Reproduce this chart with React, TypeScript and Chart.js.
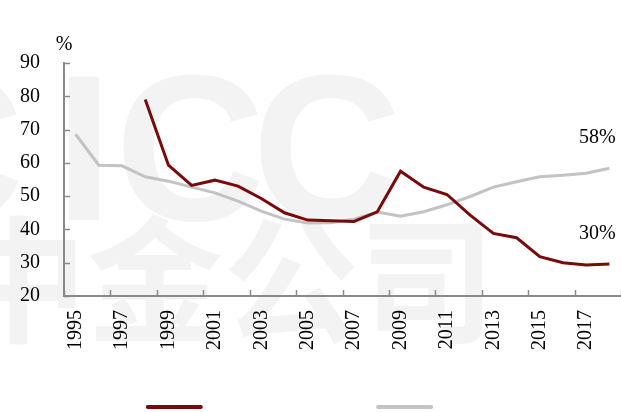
import React, { useEffect, useRef } from 'react';
import { Chart, registerables } from 'chart.js';

Chart.register(...registerables);

const years = [
  '1995', '1996', '1997', '1998', '1999', '2000', '2001', '2002', '2003', '2004', '2005', '2006',
  '2007', '2008', '2009', '2010', '2011', '2012', '2013', '2014', '2015', '2016', '2017', '2018',
];

const redSeries = [
  null, null, null, 79.0, 59.3, 53.2, 54.8, 53.0, 49.3, 45.0, 42.8, 42.6,
  42.4, 45.3, 57.5, 52.7, 50.5, 44.3, 38.8, 37.5, 31.8, 30.0, 29.3, 29.6,
];

const graySeries = [
  68.6, 59.3, 59.1, 55.8, 54.5, 52.7, 51.0, 48.5, 45.5, 43.1, 41.9, 42.0,
  43.1, 45.2, 44.0, 45.3, 47.4, 49.9, 52.7, 54.3, 55.8, 56.3, 56.9, 58.4,
];

const yMin = 20;
const yMax = 90;
const yStep = 10;
const unitLabel = '%';
const endLabels = ['30%', '58%'];
const watermarkLatin = ['C', 'I', 'C', 'C'];
const watermarkCJK = '中金公司';

const RED = '#7a0a0a';
const GRAY = '#c3c3c3';
const AXIS = '#8a8a8a';
const WM = '#f3f3f3';
const FONT = "'Liberation Serif', 'Times New Roman', serif";

const watermark = {
  id: 'watermark',
  beforeDraw(chart: any) {
    const { ctx } = chart;
    ctx.save();
    ctx.fillStyle = WM;
    ctx.textBaseline = 'alphabetic';
    ctx.textAlign = 'left';
    ctx.font = "bold 208px 'Liberation Sans', Arial, sans-serif";
    const xs = [-126, 55, 115, 252];
    watermarkLatin.forEach((ch, i) => ctx.fillText(ch, xs[i], 220));
    ctx.font = "bold 136px 'Noto Sans CJK SC', sans-serif";
    ctx.textBaseline = 'middle';
    ctx.fillText(watermarkCJK, -49, 280);
    ctx.restore();
  },
};

const innerTicks = {
  id: 'innerTicks',
  afterDraw(chart: any) {
    const { ctx, chartArea, scales } = chart;
    const x = scales.x;
    const y = scales.y;
    ctx.save();
    ctx.strokeStyle = AXIS;
    ctx.lineWidth = 1.5;
    ctx.beginPath();
    y.ticks.forEach((t: any) => {
      const py = Math.round(y.getPixelForValue(t.value)) + 0.5;
      ctx.moveTo(chartArea.left, py);
      ctx.lineTo(chartArea.left + 6, py);
    });
    const n = years.length;
    const w = (chartArea.right - chartArea.left) / n;
    for (let i = 0; i <= n; i += 2) {
      const px = Math.round(x.getPixelForValue(Math.min(i, n - 1)) + (i === n ? w / 2 : -w / 2)) + 0.5;
      ctx.moveTo(px, chartArea.bottom);
      ctx.lineTo(px, chartArea.bottom - 6);
    }
    ctx.stroke();

    // unit label
    ctx.fillStyle = '#000';
    ctx.font = `20px ${FONT}`;
    ctx.textAlign = 'center';
    ctx.textBaseline = 'middle';
    ctx.fillText(unitLabel, chartArea.left, chartArea.top - 18);

    // end labels
    chart.data.datasets.forEach((_: any, di: number) => {
      const meta = chart.getDatasetMeta(di);
      const pt = meta.data[meta.data.length - 1];
      if (!pt) return;
      ctx.fillText(endLabels[di], pt.x - 12, pt.y - 30);
    });

    // legend swatches (no visible text in the source)
    const legendY = chart.height - 5;
    const starts = [0.238, 0.609];
    ctx.lineCap = 'round';
    ctx.lineWidth = 4;
    chart.data.datasets.forEach((ds: any, di: number) => {
      const sx = chart.width * starts[di];
      ctx.strokeStyle = ds.borderColor;
      ctx.beginPath();
      ctx.moveTo(sx, legendY);
      ctx.lineTo(sx + 53, legendY);
      ctx.stroke();
    });
    ctx.restore();
  },
};

export default function App() {
  const ref = useRef<HTMLCanvasElement | null>(null);

  useEffect(() => {
    if (!ref.current) return;
    const chart = new Chart(ref.current, {
      type: 'line',
      data: {
        labels: years,
        datasets: [
          {
            label: 'A',
            data: redSeries,
            borderColor: RED,
            borderWidth: 3,
            pointRadius: 0,
            tension: 0,
            spanGaps: false,
          },
          {
            label: 'B',
            data: graySeries,
            borderColor: GRAY,
            borderWidth: 3,
            pointRadius: 0,
            tension: 0,
          },
        ],
      },
      options: {
        animation: false,
        responsive: false,
        layout: { padding: { top: 63, left: 0, right: 0, bottom: 0 } },
        plugins: {
          legend: { display: false },
          tooltip: { enabled: false },
        },
        scales: {
          x: {
            offset: true,
            grid: { display: false, drawTicks: false, offset: true },
            border: { display: true, color: AXIS, width: 2 },
            ticks: {
              autoSkip: false,
              minRotation: 90,
              maxRotation: 90,
              padding: 14,
              color: '#000',
              font: { family: FONT, size: 20 },
              callback: (_v: any, i: number) => (i % 2 === 0 ? years[i] : ''),
            },
            afterFit: (s: any) => {
              s.height = 116;
              s.paddingLeft = 0;
              s.paddingRight = 0;
            },
          },
          y: {
            min: yMin,
            max: yMax,
            grid: { display: false, drawTicks: false },
            border: { display: true, color: AXIS, width: 2 },
            ticks: {
              stepSize: yStep,
              padding: 24,
              color: '#000',
              font: { family: FONT, size: 20 },
            },
            afterFit: (s: any) => {
              s.width = 64;
            },
          },
        },
      },
      plugins: [watermark, innerTicks],
    });
    return () => chart.destroy();
  }, []);

  return (
    <div style={{ position: 'fixed', left: 0, top: 0, width: 621, height: 412, background: '#fff' }}>
      <canvas ref={ref} width={621} height={412} style={{ width: 621, height: 412 }} />
    </div>
  );
}
